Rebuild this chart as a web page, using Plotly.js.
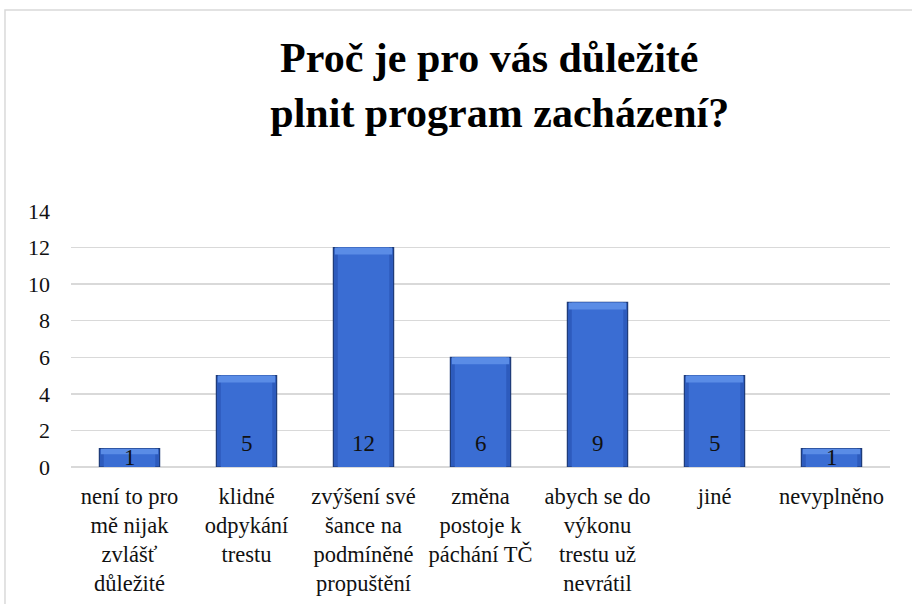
<!DOCTYPE html>
<html>
<head>
<meta charset="utf-8">
<script src="https://cdn.plot.ly/plotly-3.0.1.min.js"></script>
<style>
html,body{margin:0;padding:0;background:#fff;}
#chart{width:912px;height:604px;}
</style>
</head>
<body>
<div id="chart"></div>
<script>
const categories = [
  "není to pro<br>mě nijak<br>zvlášť<br>důležité",
  "klidné<br>odpykání<br>trestu",
  "zvýšení své<br>šance na<br>podmíněné<br>propuštění",
  "změna<br>postoje k<br>páchání TČ",
  "abych se do<br>výkonu<br>trestu už<br>nevrátil",
  "jiné",
  "nevyplněno"
];
const counts = [1, 5, 12, 6, 9, 5, 1];
const yTicks = [0, 2, 4, 6, 8, 10, 12, 14];
const titleLines = ["Proč je pro vás důležité\u00a0\u00a0", "plnit program zacházení?"];

const serif = "Liberation Serif";

const annotations = categories.map((c, i) => ({
  x: c, y: 0, xref: 'x', yref: 'y',
  text: String(counts[i]),
  showarrow: false,
  yanchor: 'middle',
  yshift: counts[i] >= 2 ? 24 : 10,
  font: {family: serif, size: 23, color: '#111'}
}));

// outer bar (dark edges)
const outer = {
  type: 'bar', x: categories, y: counts, width: 0.515,
  marker: {color: '#2d5bbd', line: {color: '#1d3a78', width: 1.2}},
  hoverinfo: 'skip'
};
// inner lighter body
const inner = {
  type: 'bar', x: categories, y: counts, width: 0.44,
  marker: {color: '#3a6dd3', line: {width: 0}},
  hoverinfo: 'skip'
};
// top bevel highlight
const bevelH = counts.map(v => Math.min(0.38, v * 0.3));
const bevel = {
  type: 'bar', x: categories, y: bevelH, base: counts.map((v, i) => v - bevelH[i]),
  width: 0.49,
  marker: {color: '#5a8ce6', line: {width: 0}},
  hoverinfo: 'skip'
};

const layout = {
  width: 912, height: 604,
  margin: {l: 71, r: 22, t: 211, b: 137, pad: 0},
  paper_bgcolor: '#fff', plot_bgcolor: '#fff',
  font: {family: serif, color: '#111'},
  title: {
    text: titleLines.join('<br>'),
    font: {family: serif, size: 42, color: '#000', weight: 'bold'},
    x: 0.548, xanchor: 'center', y: 0.880, yanchor: 'top'
  },
  barmode: 'overlay',
  showlegend: false,
  xaxis: {
    type: 'category',
    showgrid: false, zeroline: false, showline: false,
    ticks: '', tickfont: {family: serif, size: 22.5, color: '#111'},
    ticklabelstandoff: 13,
    tickangle: 0, automargin: false
  },
  yaxis: {
    range: [0, 14],
    tickvals: yTicks,
    showgrid: true, gridcolor: '#d9d9d9', gridwidth: 1.5,
    zeroline: true, zerolinecolor: '#d9d9d9', zerolinewidth: 2,
    showline: false, ticks: '',
    ticklabelstandoff: 20,
    tickfont: {family: serif, size: 22, color: '#111'},
    automargin: false
  },
  annotations: annotations,
  shapes: [{
    type: 'rect', xref: 'paper', yref: 'paper',
    x0: -0.0806, x1: 1.2, y0: -1.0, y1: 1.785,
    line: {color: '#d9d9d9', width: 1.5}, fillcolor: 'rgba(0,0,0,0)', layer: 'below'
  }]
};

Plotly.newPlot('chart', [outer, inner, bevel], layout, {displayModeBar: false, staticPlot: true});
</script>
</body>
</html>
